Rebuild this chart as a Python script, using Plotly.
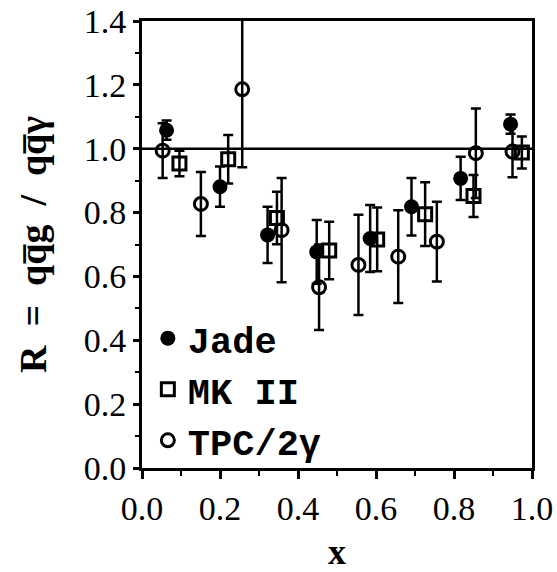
import plotly.graph_objects as go

# Jade
jade_x = [0.063, 0.200, 0.322, 0.448, 0.585, 0.691, 0.817, 0.945]
jade_y = [1.058, 0.881, 0.730, 0.677, 0.719, 0.818, 0.907, 1.077]
jade_e = [0.030, 0.063, 0.088, 0.100, 0.105, 0.090, 0.068, 0.030]

# MK II
mk_x = [0.096, 0.221, 0.346, 0.480, 0.603, 0.726, 0.850, 0.974]
mk_y = [0.954, 0.967, 0.783, 0.681, 0.716, 0.795, 0.852, 0.988]
mk_e = [0.040, 0.076, 0.082, 0.090, 0.100, 0.100, 0.066, 0.050]

# TPC/2gamma
tpc_x = [0.053, 0.151, 0.257, 0.358, 0.454, 0.555, 0.657, 0.756, 0.856, 0.950]
tpc_y = [0.994, 0.827, 1.186, 0.745, 0.566, 0.636, 0.662, 0.709, 0.986, 0.991]
tpc_e = [0.086, 0.100, 0.244, 0.163, 0.134, 0.157, 0.145, 0.125, 0.140, 0.080]

y_ticks = [0.0, 0.2, 0.4, 0.6, 0.8, 1.0, 1.2, 1.4]
x_ticks = [0.0, 0.2, 0.4, 0.6, 0.8, 1.0]

def err(e):
    return dict(type="data", array=e, visible=True, color="black", thickness=2.5, width=5)

fig = go.Figure()
fig.add_trace(go.Scatter(
    x=tpc_x, y=tpc_y, mode="markers", name="TPC/2\u03b3", error_y=err(tpc_e),
    marker=dict(symbol="circle-open", size=13, color="black", line=dict(width=3, color="black")),
    cliponaxis=False))
fig.add_trace(go.Scatter(
    x=mk_x, y=mk_y, mode="markers", name="MK II", error_y=err(mk_e),
    marker=dict(symbol="square-open", size=13, color="black", line=dict(width=3, color="black")),
    cliponaxis=False))
fig.add_trace(go.Scatter(
    x=jade_x, y=jade_y, mode="markers", name="Jade", error_y=err(jade_e),
    marker=dict(symbol="circle", size=15, color="black"),
    cliponaxis=False))

fig.add_shape(type="line", xref="paper", yref="y", x0=0, x1=1, y0=1.0, y1=1.0,
              line=dict(color="black", width=2.5))

nb = "\u00a0"
ytitle = f"<b>R{nb}{nb}={nb}{nb}qq\u0305g{nb}{nb}/{nb}{nb}qq\u0305\u03b3</b>"

tickfont = dict(family="Liberation Serif", size=34, color="black")
fig.update_layout(
    width=557, height=572,
    margin=dict(l=142, r=25, t=21, b=104),
    paper_bgcolor="white", plot_bgcolor="white",
    showlegend=True,
    legend=dict(x=0.015, y=-0.008, xanchor="left", yanchor="bottom",
                traceorder="reversed",
                bgcolor="rgba(0,0,0,0)",
                font=dict(family="Liberation Mono", size=37, color="black", weight="bold")),
    xaxis=dict(range=[0, 1.0], tickvals=x_ticks, ticktext=[f"{v:.1f}" for v in x_ticks],
               automargin=False,
               showgrid=False, zeroline=False, showline=True, linecolor="black", linewidth=3,
               mirror=True, ticks="outside", ticklen=8, tickwidth=2.5, tickcolor="black",
               minor=dict(dtick=0.1, ticks="outside", ticklen=5, tickwidth=2, tickcolor="black"),
               tickfont=tickfont,
               title=dict(text="<b>x</b>", font=dict(family="Liberation Serif", size=36, color="black"),
                          standoff=31)),
    yaxis=dict(range=[0, 1.4], tickvals=y_ticks, ticktext=[f"{v:.1f}" for v in y_ticks],
               automargin=False,
               showgrid=False, zeroline=False, showline=True, linecolor="black", linewidth=3,
               mirror=True, ticks="outside", ticklen=6, tickwidth=2.5, tickcolor="black",
               minor=dict(dtick=0.1, ticks="outside", ticklen=4, tickwidth=2, tickcolor="black"),
               tickfont=tickfont,
               title=dict(text=ytitle,
                          font=dict(family="Liberation Serif", size=38, color="black"),
                          standoff=26)),
)

fig.write_html("out.html")
